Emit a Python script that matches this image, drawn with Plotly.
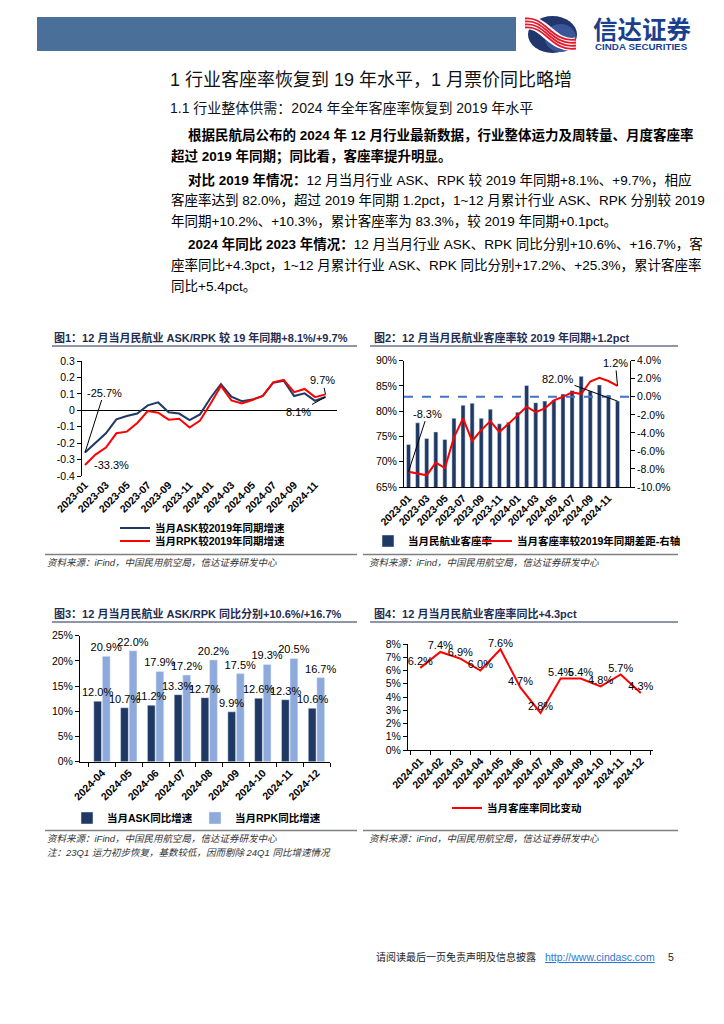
import plotly.graph_objects as go

W, H = 724, 1024
def X(p): return p / W
def Y(p): return 1 - p / H

LAT = "Liberation Sans, Arial, Noto Sans CJK SC, sans-serif"
NAVY = "#1F3864"
RED = "#FF0000"
LIGHT = "#8EA9DB"

# ---------------- data ----------------
months = ["2023-01", "2023-02", "2023-03", "2023-04", "2023-05", "2023-06",
          "2023-07", "2023-08", "2023-09", "2023-10", "2023-11", "2023-12",
          "2024-01", "2024-02", "2024-03", "2024-04", "2024-05", "2024-06",
          "2024-07", "2024-08", "2024-09", "2024-10", "2024-11", "2024-12"]
month_ticks = ["2023-01", "2023-03", "2023-05", "2023-07", "2023-09", "2023-11",
               "2024-01", "2024-03", "2024-05", "2024-07", "2024-09", "2024-11"]

ask_vs_2019 = [-0.257, -0.20, -0.14, -0.055, -0.035, -0.02, 0.03, 0.048, -0.012, -0.02, -0.06, -0.025,
               0.075, 0.16, 0.083, 0.055, 0.065, 0.087, 0.168, 0.18, 0.087, 0.103, 0.058, 0.081]
rpk_vs_2019 = [-0.333, -0.27, -0.227, -0.14, -0.13, -0.077, -0.005, -0.015, -0.057, -0.052, -0.105, -0.062,
               0.04, 0.148, 0.06, 0.042, 0.063, 0.087, 0.17, 0.185, 0.11, 0.13, 0.08, 0.097]

load_factor = [73.4, 77.7, 74.6, 75.9, 74.4, 78.6, 81.2, 81.6, 78.6, 80.4, 77.5, 77.8,
               79.8, 85.1, 81.7, 82.0, 82.2, 83.4, 84.1, 86.9, 84.0, 85.2, 83.2, 82.0]
lf_diff_2019 = [-8.3, -8.5, -8.7, -7.3, -7.9, -4.5, -2.4, -4.9, -3.7, -2.7, -3.9, -3.0,
                -2.1, -1.1, -1.7, -1.3, -0.4, 0.0, 0.5, 0.3, 1.7, 2.1, 1.75, 1.2]

yoy_months = ["2024-04", "2024-05", "2024-06", "2024-07", "2024-08",
              "2024-09", "2024-10", "2024-11", "2024-12"]
ask_yoy = [12.0, 10.7, 11.2, 13.3, 12.7, 9.9, 12.6, 12.3, 10.6]
rpk_yoy = [20.9, 22.0, 17.9, 17.2, 20.2, 17.5, 19.3, 20.5, 16.7]

lf_months = ["2024-01", "2024-02", "2024-03", "2024-04", "2024-05", "2024-06",
             "2024-07", "2024-08", "2024-09", "2024-10", "2024-11", "2024-12"]
lf_yoy = [6.2, 7.4, 6.9, 6.0, 7.6, 4.7, 2.8, 5.4, 5.4, 4.8, 5.7, 4.3]

c1_tickvals = [-0.4, -0.3, -0.2, -0.1, 0, 0.1, 0.2, 0.3]
c1_ticktext = ["-0.4", "-0.3", "-0.2", "-0.1", "0", "0.1", "0.2", "0.3"]
c2_left_vals = [65, 70, 75, 80, 85, 90]
c2_left_text = ["65%", "70%", "75%", "80%", "85%", "90%"]
c2_right_vals = [-10, -8, -6, -4, -2, 0, 2, 4]
c2_right_text = ["-10.0%", "-8.0%", "-6.0%", "-4.0%", "-2.0%", "0.0%", "2.0%", "4.0%"]

# ---------------- figure ----------------
fig = go.Figure()
lab_font = dict(family=LAT, size=11, color="#000")

# chart 1
fig.add_trace(go.Scatter(x=months, y=ask_vs_2019, mode="lines", name="当月ASK较2019年同期增速",
                         line=dict(color=NAVY, width=2), xaxis="x", yaxis="y", legend="legend"))
fig.add_trace(go.Scatter(x=months, y=rpk_vs_2019, mode="lines", name="当月RPK较2019年同期增速",
                         line=dict(color=RED, width=2), xaxis="x", yaxis="y", legend="legend2"))

# chart 2
fig.add_trace(go.Bar(x=months, y=load_factor, name="当月民航业客座率", marker_color=NAVY,
                     width=0.45, xaxis="x2", yaxis="y2", legend="legend3"))
fig.add_trace(go.Scatter(x=months, y=lf_diff_2019, mode="lines", name="当月客座率较2019年同期差距-右轴",
                         line=dict(color=RED, width=2), xaxis="x2", yaxis="y3", legend="legend4"))

# chart 3
ASK_OFF, ASK_W, RPK_OFF, RPK_W = -0.31, 0.29, 0.01, 0.29
fig.add_trace(go.Bar(x=yoy_months, y=ask_yoy, name="当月ASK同比增速", marker_color=NAVY,
                     width=ASK_W, offset=ASK_OFF,
                     xaxis="x3", yaxis="y4", legend="legend5"))
fig.add_trace(go.Bar(x=yoy_months, y=rpk_yoy, name="当月RPK同比增速", marker_color=LIGHT,
                     width=RPK_W, offset=RPK_OFF, text=rpk_yoy, texttemplate="%{y:.1f}%",
                     textposition="outside", cliponaxis=False, constraintext="none",
                     textfont=lab_font, xaxis="x3", yaxis="y4", legend="legend6"))

# chart 4
fig.add_trace(go.Scatter(x=lf_months, y=lf_yoy, mode="lines+text", name="当月客座率同比变动",
                         line=dict(color=RED, width=2), text=lf_yoy, texttemplate="%{y:.1f}%",
                         textposition="top center", cliponaxis=False, textfont=lab_font,
                         xaxis="x4", yaxis="y5", legend="legend7"))

tickf = dict(family=LAT, size=10.5, color="#000")
tickfb = dict(family=LAT, size=10.5, color="#000", weight="bold")
base = dict(showgrid=False, zeroline=False, linecolor="#000", linewidth=1,
            ticks="outside", ticklen=4, tickcolor="#000", fixedrange=True)

C3_X0, C3_X1 = 80, 330
layout_axes = dict(
    xaxis=dict(base, domain=[X(82), X(337)], anchor="y", type="category", showline=False,
               ticks="", tickvals=month_ticks, tickangle=-45, tickfont=tickfb),
    yaxis=dict(base, domain=[Y(476), Y(361)], anchor="x", range=[-0.4, 0.3], showline=True,
               tickvals=c1_tickvals, ticktext=c1_ticktext, tickfont=tickf,
               zeroline=True, zerolinecolor="#000", zerolinewidth=1),
    xaxis2=dict(base, domain=[X(404), X(630)], anchor="y2", type="category", showline=True,
                ticks="", tickvals=month_ticks, tickangle=-45, tickfont=tickfb),
    yaxis2=dict(base, domain=[Y(487), Y(360.7)], anchor="x2", range=[65, 90], showline=True,
                tickvals=c2_left_vals, ticktext=c2_left_text, tickfont=tickf),
    yaxis3=dict(base, overlaying="y2", side="right", anchor="x2", range=[-10, 4], showline=True,
                tickvals=c2_right_vals, ticktext=c2_right_text, tickfont=tickf),
    xaxis3=dict(base, domain=[X(C3_X0), X(C3_X1)], anchor="y4", type="category", showline=True,
                tickson="boundaries", tickangle=-45, tickfont=tickfb),
    yaxis4=dict(base, domain=[Y(761.7), Y(635.7)], anchor="x3", range=[0, 25], dtick=5,
                showline=True, ticksuffix="%", tickfont=tickf),
    xaxis4=dict(base, domain=[X(408), X(653)], anchor="y5", type="category", showline=True,
                tickson="boundaries", tickangle=-45, tickfont=tickfb),
    yaxis5=dict(base, domain=[Y(750), Y(644)], anchor="x4", range=[0, 8], dtick=1,
                showline=True, ticksuffix="%", tickfont=tickf),
)

legfont = dict(family=LAT, size=10.5, color="#000", weight="bold")
def leg(text_x, y):
    return dict(x=X(text_x - 40), y=Y(y), xanchor="left", yanchor="middle", orientation="h",
                font=legfont, bgcolor="rgba(0,0,0,0)")
legends = dict(
    legend=leg(155, 528), legend2=leg(155, 541),
    legend3=leg(408, 541), legend4=leg(517, 541),
    legend5=leg(107, 818), legend6=leg(235, 818),
    legend7=leg(487, 808),
)

# ---------------- annotations ----------------
ann = []
def txt(x, y, s, size, color="#000", xanchor="left", bold=False, italic=False):
    f = dict(family=LAT, size=size, color=color)
    if bold:
        f["weight"] = "bold"
    if italic:
        f["style"] = "italic"
    ann.append(dict(xref="paper", yref="paper", x=X(x), y=Y(y), text=s, showarrow=False,
                    xanchor=xanchor, yanchor="middle", font=f))

# header logo text
txt(591, 30, "<b>信达证券</b>", 24.5, color="#1B3F8F")
txt(593, 46, "<b>CINDA SECURITIES</b>", 9.8, color="#1B3F8F")

# headings
txt(168, 80, "1 行业客座率恢复到 19 年水平，1 月票价同比略增", 18, color="#111")
txt(168, 108, "1.1 行业整体供需：2024 年全年客座率恢复到 2019 年水平", 14, color="#111")

body = 13.5
txt(186, 135, "<b>根据民航局公布的 2024 年 12 月行业最新数据，行业整体运力及周转量、月度客座率</b>", body)
txt(169, 156, "<b>超过 2019 年同期；同比看，客座率提升明显。</b>", body)
txt(186, 180, "<b>对比 2019 年情况：</b>12 月当月行业 ASK、RPK 较 2019 年同期+8.1%、+9.7%，相应", body)
txt(169, 200, "客座率达到 82.0%，超过 2019 年同期 1.2pct，1~12 月累计行业 ASK、RPK 分别较 2019", body)
txt(169, 221, "年同期+10.2%、+10.3%，累计客座率为 83.3%，较 2019 年同期+0.1pct。", body)
txt(186, 244, "<b>2024 年同比 2023 年情况：</b>12 月当月行业 ASK、RPK 同比分别+10.6%、+16.7%，客", body)
txt(169, 265, "座率同比+4.3pct，1~12 月累计行业 ASK、RPK 同比分别+17.2%、+25.3%，累计客座率", body)
txt(169, 286, "同比+5.4pct。", body)

TITLE = "#1F2D50"
txt(52, 337, "图1：12 月当月民航业 ASK/RPK 较 19 年同期+8.1%/+9.7%", 11, color=TITLE, bold=True)
txt(372, 337, "图2：12 月当月民航业客座率较 2019 年同期+1.2pct", 11, color=TITLE, bold=True)
txt(52, 613, "图3：12 月当月民航业 ASK/RPK 同比分别+10.6%/+16.7%", 11, color=TITLE, bold=True)
txt(372, 613, "图4：12 月当月民航业客座率同比+4.3pct", 11, color=TITLE, bold=True)

SRC = "资料来源：iFind，中国民用航空局，信达证券研发中心"
txt(45, 562, SRC, 9.5, color="#333", italic=True)
txt(367, 562, SRC, 9.5, color="#333", italic=True)
txt(45, 838, SRC, 9.5, color="#333", italic=True)
txt(367, 838, SRC, 9.5, color="#333", italic=True)
txt(45, 852, "注：23Q1 运力初步恢复，基数较低，因而剔除 24Q1 同比增速情况", 9.5, color="#333", italic=True)

# footer
txt(538, 957, "请阅读最后一页免责声明及信息披露", 10, color="#222", xanchor="right")
txt(543, 957, "<span style='text-decoration:underline'>http://www.cindasc.com</span>", 10.5, color="#2E75D6")
txt(666, 957, "5", 10.5, color="#222")

# data-label annotations with leader lines
def dl(xref, yref, x, y, s, ax, ay, arrow=True, xshift=0, yshift=0):
    d = dict(xref=xref, yref=yref, x=x, y=y, text=s, font=lab_font, showarrow=arrow,
             xshift=xshift, yshift=yshift)
    if arrow:
        d.update(ax=ax, ay=ay, arrowhead=0, arrowwidth=1, arrowcolor="#000", standoff=0)
    ann.append(d)

dl("x", "y", months[0], ask_vs_2019[0], f"{ask_vs_2019[0]*100:.1f}%", 19, -60)
dl("x", "y", months[0], rpk_vs_2019[0], f"{rpk_vs_2019[0]*100:.1f}%", 0, 0, arrow=False, xshift=26)
dl("x", "y", months[-1], rpk_vs_2019[-1], f"{rpk_vs_2019[-1]*100:.1f}%", -3, -14)
dl("x", "y", months[-1], ask_vs_2019[-1], f"{ask_vs_2019[-1]*100:.1f}%", -27, 15)
dl("x2", "y3", months[0], lf_diff_2019[0], f"{lf_diff_2019[0]:.1f}%", 19, -58)
dl("x2", "y2", months[-1], load_factor[-1], f"{load_factor[-1]:.1f}%", -60, -22)
dl("x2", "y3", months[-1], lf_diff_2019[-1], f"{lf_diff_2019[-1]:.1f}%", -2, -23)

# ASK labels in chart 3 drawn on top of the neighbouring RPK bars
cat_px = (C3_X1 - C3_X0) / len(yoy_months)
ask_shift = (ASK_OFF + ASK_W / 2) * cat_px
for m, v in zip(yoy_months, ask_yoy):
    ann.append(dict(xref="x3", yref="y4", x=m, y=v, text=f"{v:.1f}%", font=lab_font,
                    showarrow=False, xshift=ask_shift, yanchor="bottom", yshift=1))

# ---------------- shapes ----------------
shapes = []
def rect(x0, y0, x1, y1, color):
    shapes.append(dict(type="rect", xref="paper", yref="paper", x0=X(x0), x1=X(x1),
                       y0=Y(y1), y1=Y(y0), fillcolor=color, line=dict(width=0), layer="below"))
def hline(x0, x1, y, color, width):
    shapes.append(dict(type="line", xref="paper", yref="paper", x0=X(x0), x1=X(x1),
                       y0=Y(y), y1=Y(y), line=dict(color=color, width=width)))
def bez(p, color, width):
    (a, b), (c, d), (e, f), (g, h) = p
    path = (f"M {X(a)},{Y(b)} C {X(c)},{Y(d)} {X(e)},{Y(f)} {X(g)},{Y(h)}")
    shapes.append(dict(type="path", xref="paper", yref="paper", path=path,
                       line=dict(color=color, width=width)))

rect(37, 17, 516, 51, "#4A6F98")
# logo ellipse
shapes.append(dict(type="circle", xref="paper", yref="paper", x0=X(528), x1=X(577),
                   y0=Y(53), y1=Y(16), fillcolor="#22366E", line=dict(width=0)))
shapes.append(dict(type="circle", xref="paper", yref="paper", x0=X(545), x1=X(576),
                   y0=Y(52), y1=Y(24), fillcolor="#3A5699", line=dict(width=0)))
bez([(525, 23), (545, 20), (552, 48), (576, 44)], "#FFFFFF", 13)
for k in range(4):
    bez([(525, 18.5 + 3 * k), (545, 15.5 + 3 * k), (552, 43.5 + 3 * k), (576, 39.5 + 3 * k)], "#E3182D", 1.8)

# title underlines & source lines
for (x0, x1) in [(52, 357), (370, 678)]:
    hline(x0, x1, 346, "#1F2D50", 1)
    hline(x0, x1, 622, "#1F2D50", 1)
    hline(x0 - 7, x1, 554.5, "#808080", 1.5)
    hline(x0 - 7, x1, 830.5, "#808080", 1.5)

# chart 2 dashed reference at 0 on right axis
shapes.append(dict(type="line", xref="x2 domain", yref="y3", x0=0, x1=1, y0=0, y1=0,
                   line=dict(color="#4472C4", width=2, dash="dash")))

fig.update_layout(
    width=W, height=H, margin=dict(l=0, r=0, t=0, b=0, autoexpand=False),
    paper_bgcolor="white", plot_bgcolor="white",
    font=dict(family=LAT, color="#000"),
    barmode="overlay", showlegend=True,
    annotations=ann, shapes=shapes,
    **layout_axes, **legends,
)

fig.write_html("out.html", config={"displayModeBar": False},
               post_script="document.body.style.margin='0';")
